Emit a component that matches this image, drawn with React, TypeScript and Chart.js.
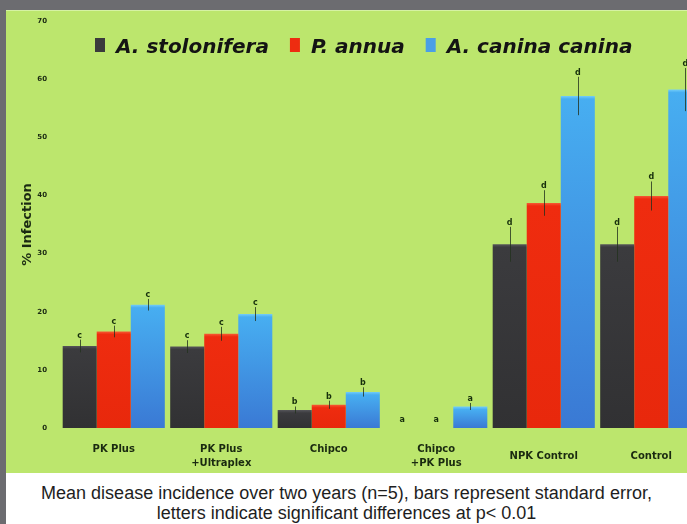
import { useEffect, useRef } from 'react';
import { Chart, registerables } from 'chart.js';

Chart.register(...registerables);

const categories: (string | string[])[] = [
  ['PK Plus', ''],
  ['PK Plus', '+Ultraplex'],
  ['Chipco', ''],
  ['Chipco', '+PK Plus'],
  'NPK Control',
  'Control',
];
const seriesNames = ['A. stolonifera', 'P. annua', 'A. canina canina'];
const stoloniferaValues = [14.1, 14.0, 3.1, 0, 31.6, 31.6];
const annuaValues = [16.6, 16.2, 4.0, 0, 38.7, 39.9];
const caninaValues = [21.2, 19.6, 6.2, 3.7, 57.1, 58.2];
const stoloniferaErrors = [1.1, 1.1, 0.6, 0, 3.0, 3.0];
const annuaErrors = [1.0, 1.2, 0.7, 0, 2.2, 2.5];
const caninaErrors = [1.0, 1.2, 0.8, 0.6, 3.3, 3.7];
const stoloniferaLetters = ['c', 'c', 'b', 'a', 'd', 'd'];
const annuaLetters = ['c', 'c', 'b', 'a', 'd', 'd'];
const caninaLetters = ['c', 'c', 'b', 'a', 'd', 'd'];
const yMin = 0;
const yMax = 70;
const yStep = 10;
const yTitle = '% Infection';
const captionLines = [
  'Mean disease incidence over two years (n=5), bars represent standard error,',
  'letters indicate significant differences at p< 0.01',
];

const FONT = "'DejaVu Sans'";

function barFill(hi: string, body: string, bottomCol: string) {
  return (c: any) => {
    const chart = c.chart;
    const ys = chart.scales && chart.scales.y;
    if (!ys || c.type !== 'data' || typeof c.raw !== 'number') return body;
    const top = ys.getPixelForValue(c.raw);
    const bottom = ys.getPixelForValue(0);
    const h = bottom - top;
    if (!(h > 2)) return body;
    const g = chart.ctx.createLinearGradient(0, top, 0, bottom);
    const f = Math.min(0.4, 3 / h);
    g.addColorStop(0, hi);
    g.addColorStop(f, body);
    g.addColorStop(1, bottomCol);
    return g;
  };
}

const errorBarPlugin = {
  id: 'errorBars',
  afterDatasetsDraw(chart: any) {
    const ctx = chart.ctx;
    const ys = chart.scales.y;
    ctx.save();
    chart.data.datasets.forEach((ds: any, i: number) => {
      const meta = chart.getDatasetMeta(i);
      meta.data.forEach((bar: any, j: number) => {
        const v = ds.data[j];
        const e = ds.errors[j];
        const yTop = ys.getPixelForValue(v + e);
        const yBot = ys.getPixelForValue(Math.max(0, v - e));
        const x = Math.round(bar.x) + 0.5;
        if (e > 0) {
          ctx.strokeStyle = 'rgba(35,50,30,0.8)';
          ctx.lineWidth = 1;
          ctx.beginPath();
          ctx.moveTo(x, yBot);
          ctx.lineTo(x, yTop);
          ctx.stroke();
        }
        ctx.fillStyle = '#17300c';
        ctx.font = `bold 8px ${FONT}`;
        ctx.textAlign = 'center';
        ctx.textBaseline = 'alphabetic';
        ctx.fillText(ds.letters[j], bar.x, yTop - (e > 0 ? 2 : 6));
      });
    });
    ctx.restore();
  },
};

const legendPlugin = {
  id: 'customLegend',
  afterDraw(chart: any) {
    const ctx = chart.ctx;
    ctx.save();
    ctx.font = `italic bold 20px ${FONT}`;
    ctx.textAlign = 'left';
    ctx.textBaseline = 'alphabetic';
    let x = 89;
    chart.data.datasets.forEach((ds: any) => {
      ctx.fillStyle = ds.legendColor;
      ctx.fillRect(x, 28, 10, 14);
      x += 21;
      ctx.fillStyle = '#141414';
      ctx.fillText(ds.label, x, 42.5);
      x += ctx.measureText(ds.label).width + 21;
    });
    ctx.restore();
  },
};

export default function App() {
  const canvasRef = useRef<HTMLCanvasElement>(null);

  useEffect(() => {
    const canvas = canvasRef.current;
    if (!canvas) return;
    const chart = new Chart(canvas, {
      type: 'bar',
      data: {
        labels: categories as any,
        datasets: [
          {
            label: seriesNames[0],
            data: stoloniferaValues,
            errors: stoloniferaErrors,
            letters: stoloniferaLetters,
            legendColor: '#3a3a3c',
            backgroundColor: barFill('#56565a', '#3b3b3e', '#313133'),
          } as any,
          {
            label: seriesNames[1],
            data: annuaValues,
            errors: annuaErrors,
            letters: annuaLetters,
            legendColor: '#ee2c10',
            backgroundColor: barFill('#f65a34', '#ef2c0f', '#e8280c'),
          } as any,
          {
            label: seriesNames[2],
            data: caninaValues,
            errors: caninaErrors,
            letters: caninaLetters,
            legendColor: '#4a9fe6',
            backgroundColor: barFill('#72cdf9', '#47aef1', '#3a79d4'),
          } as any,
        ],
      },
      options: {
        responsive: false,
        animation: false,
        events: [],
        layout: { padding: { top: 11, right: 5, left: 0, bottom: 0 } },
        datasets: {
          bar: { categoryPercentage: 0.95, barPercentage: 1, borderWidth: 0 },
        },
        scales: {
          x: {
            grid: { display: false, drawTicks: false },
            border: { display: false },
            ticks: {
              autoSkip: false,
              maxRotation: 0,
              minRotation: 0,
              padding: 21,
              crossAlign: 'center',
              color: '#1a2a10',
              font: { family: FONT, weight: 'bold', size: 10, lineHeight: 1.45 },
            },
            afterFit: (s: any) => {
              s.height = 45;
              s.paddingLeft = 0;
              s.paddingRight = 0;
            },
          },
          y: {
            min: yMin,
            max: yMax,
            grid: { display: false, drawTicks: false },
            border: { display: false },
            ticks: {
              stepSize: yStep,
              padding: 13,
              color: '#1b2a12',
              font: { family: FONT, weight: 'bold', size: 7 },
            },
            title: {
              display: true,
              text: yTitle,
              color: '#1b2a12',
              padding: { top: 14, bottom: 0 },
              font: { family: FONT, weight: 'bold', size: 13 },
            },
            afterFit: (s: any) => {
              s.width = 54;
              s.paddingTop = 0;
              s.paddingBottom = 0;
            },
          },
        },
        plugins: {
          legend: { display: false },
          tooltip: { enabled: false },
        },
      } as any,
      plugins: [errorBarPlugin, legendPlugin],
    });
    return () => chart.destroy();
  }, []);

  return (
    <div
      style={{
        position: 'fixed',
        left: 0,
        top: 0,
        width: 687,
        height: 524,
        background: '#6c6c70',
        overflow: 'hidden',
      }}
    >
      <div
        style={{
          position: 'absolute',
          left: 6,
          top: 10,
          width: 704,
          height: 463,
          background: '#bce66d',
          boxShadow: 'inset 0 1px 0 #d6f2a4',
        }}
      >
        <canvas ref={canvasRef} width={704} height={463} style={{ display: 'block', width: 704, height: 463 }} />
      </div>
      <div
        style={{
          position: 'absolute',
          left: 6,
          top: 473,
          width: 681,
          height: 51,
          background: '#ffffff',
          color: '#1e1e1e',
          fontFamily: "'Liberation Sans', Arial, sans-serif",
          fontSize: 18,
          lineHeight: '20px',
          textAlign: 'center',
          paddingTop: 10,
          boxSizing: 'border-box',
          whiteSpace: 'nowrap',
        }}
      >
        {captionLines.map((l, i) => (
          <div key={i}>{l}</div>
        ))}
      </div>
    </div>
  );
}
